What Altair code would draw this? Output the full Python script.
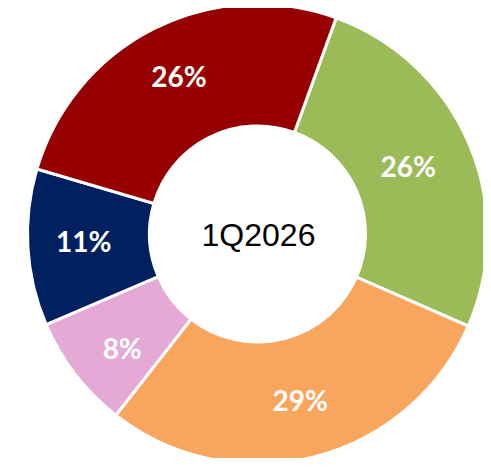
import math
import altair as alt
import pandas as pd

categories = ["A", "B", "C", "D", "E"]
shares = [26, 29, 8, 11, 26]
labels = ["26%", "29%", "8%", "11%", "26%"]
colors = ["#9BBB59", "#F8A55E", "#E4A9D4", "#002060", "#960000"]
center_label = "1Q2026"

df = pd.DataFrame({
    "cat": categories,
    "share": shares,
    "label": labels,
    "order": list(range(len(categories))),
})

start = math.radians(20)
cx, cy = 249.5, 226
outer_r, inner_r = 230, 108

theta = alt.Theta("share:Q", stack=True,
                  scale=alt.Scale(domain=[0, 100], range=[start, start + 2 * math.pi]))
color = alt.Color("cat:N", scale=alt.Scale(domain=categories, range=colors), legend=None)

base = alt.Chart(df).encode(theta=theta, order=alt.Order("order:Q"))

arcs = base.mark_arc(outerRadius=outer_r, innerRadius=inner_r, stroke="white",
                     strokeWidth=3).encode(color=color, x=alt.value(cx), y=alt.value(cy))

text_style = dict(font="Lato", fontWeight="bold", fontSize=28, color="white",
                  align="center", baseline="middle")


def label_layer(show, radius, dx=0, dy=0):
    test = alt.FieldOneOfPredicate(field="cat", oneOf=show)
    return base.mark_text(radius=radius, dx=dx, dy=dy, **text_style).encode(
        text="label:N", x=alt.value(cx), y=alt.value(cy),
        opacity=alt.condition(test, alt.value(1), alt.value(0)),
    )


texts_main = label_layer(["B", "D", "E"], 174)
texts_green = label_layer(["A"], 164)
texts_pink = label_layer(["C"], 172, dx=1, dy=12)

center = alt.Chart(pd.DataFrame({"t": [center_label]})).mark_text(
    font="Liberation Sans", fontSize=32, color="black", align="center", baseline="middle"
).encode(text="t:N", x=alt.value(cx + 1), y=alt.value(cy + 2))

chart = alt.layer(arcs, texts_main, texts_green, texts_pink, center).properties(
    width=475, height=450, padding=0,
    autosize=alt.AutoSizeParams(type="none")
).configure_view(stroke=None)

chart.save("out.html", embed_options={"renderer": "svg", "actions": False})
